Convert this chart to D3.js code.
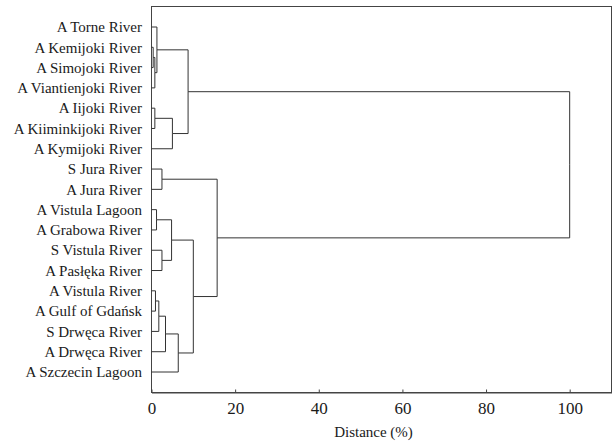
<!DOCTYPE html>
<html>
<head>
<meta charset="utf-8">
<script src="https://cdn.jsdelivr.net/npm/d3@7"></script>
<style>
  body { margin: 0; background: #fff; }
  svg text { font-family: "Times New Roman", Times, "Liberation Serif", "DejaVu Serif", serif !important; fill: #1a1a1a; }
</style>
</head>
<body>
<svg width="612" height="446"></svg>
<script>
// leaf order, top to bottom
const leaves = [
  "A Torne River", "A Kemijoki River", "A Simojoki River", "A Viantienjoki River",
  "A Iijoki River", "A Kiiminkijoki River", "A Kymijoki River",
  "S Jura River", "A Jura River",
  "A Vistula Lagoon", "A Grabowa River", "S Vistula River", "A Pasłęka River",
  "A Vistula River", "A Gulf of Gdańsk", "S Drwęca River", "A Drwęca River", "A Szczecin Lagoon"
];

// linkage: [left, right, distance]; ids >= leaves.length point to earlier merges
const merges = [
  [1, 2, 0.4],     // 18
  [18, 3, 0.8],    // 19
  [0, 19, 1.3],    // 20
  [4, 5, 0.8],     // 21
  [21, 6, 5.0],    // 22
  [20, 22, 8.75],  // 23
  [7, 8, 2.5],     // 24
  [9, 10, 1.2],    // 25
  [11, 12, 2.5],   // 26
  [25, 26, 4.8],   // 27
  [13, 14, 0.95],  // 28
  [28, 15, 1.75],  // 29
  [29, 16, 3.35],  // 30
  [30, 17, 6.4],   // 31
  [27, 31, 10.0],  // 32
  [24, 32, 15.7],  // 33
  [23, 33, 100]    // 34
];

const xTicks = [0, 20, 40, 60, 80, 100];

const svg = d3.select("svg");
const margin = {left: 151.5, right: 0.5, top: 6.5, bottom: 53.5};
const W = 612, H = 446;

const x = d3.scaleLinear().domain([0, 110]).range([margin.left, W - margin.right]);
const y = d3.scalePoint().domain(d3.range(leaves.length)).range([27, 372]);

// build nodes from the linkage table
const nodes = leaves.map((name, i) => ({id: i, name, h: 0, y: y(i)}));
merges.forEach(([a, b, h], k) => {
  const l = nodes[a], r = nodes[b];
  nodes.push({id: leaves.length + k, h, children: [l, r], y: (l.y + r.y) / 2});
});
const root = d3.hierarchy(nodes[nodes.length - 1]);

// frame
svg.append("rect")
  .attr("x", margin.left).attr("y", margin.top)
  .attr("width", W - margin.right - margin.left)
  .attr("height", H - margin.bottom - margin.top)
  .attr("fill", "none").attr("stroke", "#444").attr("stroke-width", 1);

// elbow links
svg.append("g")
  .attr("fill", "none").attr("stroke", "#333").attr("stroke-width", 1)
  .selectAll("path")
  .data(root.links())
  .join("path")
  .attr("d", d => {
    const px = x(d.source.data.h), cx = x(d.target.data.h);
    return "M" + cx + "," + d.target.data.y + "H" + px + "V" + d.source.data.y;
  });

// leaf labels
svg.append("g").selectAll("text")
  .data(leaves)
  .join("text")
  .attr("x", 142)
  .attr("y", (d, i) => y(i))
  .attr("dy", "0.35em")
  .attr("text-anchor", "end")
  .attr("font-size", 15)
  .text(d => d);

// x axis
const axis = d3.axisBottom(x).tickValues(xTicks).tickSizeInner(-3).tickSizeOuter(0).tickPadding(9);
const gx = svg.append("g")
  .attr("transform", "translate(0," + (H - margin.bottom) + ")")
  .call(axis);
gx.select(".domain").attr("stroke", "#444");
gx.selectAll(".tick line").attr("stroke", "#444");
gx.selectAll(".tick text").attr("font-size", 17);

svg.append("text")
  .attr("x", x(55) - 8).attr("y", 437)
  .attr("text-anchor", "middle")
  .attr("font-size", 15)
  .text("Distance (%)");
</script>
</body>
</html>
